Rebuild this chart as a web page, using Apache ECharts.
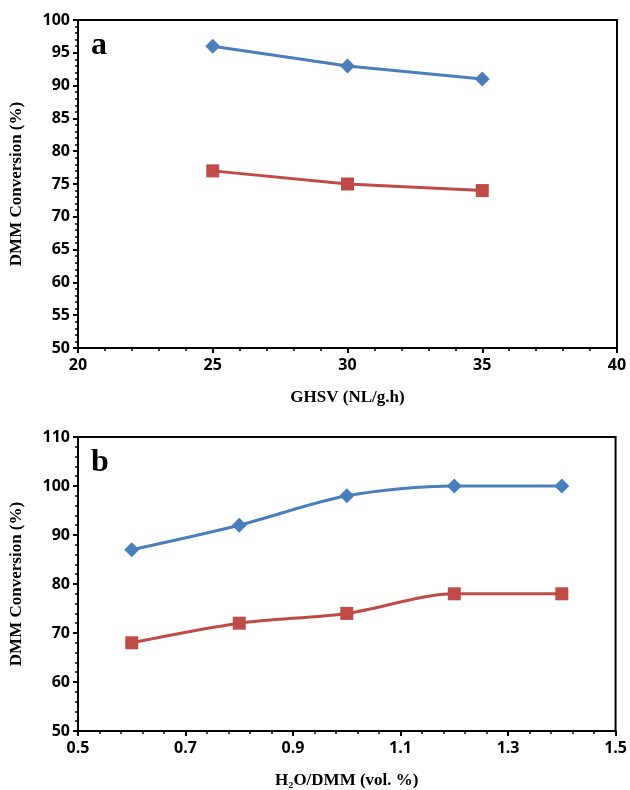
<!DOCTYPE html>
<html>
<head>
<meta charset="utf-8">
<script src="https://cdn.jsdelivr.net/npm/echarts@6/dist/echarts.min.js"></script>
<style>
html,body{margin:0;padding:0;background:#fff;}
#c{width:630px;height:790px;}
</style>
</head>
<body>
<div id="c"></div>
<script>
// Panel a
const ghsv = [25, 30, 35];
const aBlue = [96, 93, 91];
const aRed = [77, 75, 74];
// Panel b
const ratio = [0.6, 0.8, 1.0, 1.2, 1.4];
const bBlue = [87, 92, 98, 100, 100];
const bRed = [68, 72, 74, 78, 78];

const BLUE = '#4A7EBB';
const RED = '#BE4B48';
const tickFont = {fontFamily: '"Open Sans", "Liberation Sans", sans-serif', fontWeight: 'bold', fontSize: 16, color: '#000'};
const nameFont = {fontFamily: '"Liberation Serif", "DejaVu Serif", serif', fontWeight: 'bold', fontSize: 17, color: '#000'};
const axLine = {show: true, lineStyle: {color: '#000', width: 2}};

function pairs(xs, ys){ return xs.map((x,i)=>[x, ys[i]]); }

function xAxis(idx, min, max, interval, minorSplit, name, fmt){
  return {
    type: 'value', gridIndex: idx, min: min, max: max, interval: interval,
    name: name, nameLocation: 'middle', nameGap: 41, nameTextStyle: nameFont,
    axisLine: Object.assign({onZero: false}, axLine),
    axisTick: {show: true, length: 5, lineStyle: {color: '#000', width: 2}},
    minorTick: {show: true, splitNumber: minorSplit, length: 3, lineStyle: {color: '#000', width: 1.5}},
    splitLine: {show: false},
    axisLabel: Object.assign({margin: 9, formatter: fmt}, tickFont)
  };
}
function yAxis(idx, min, max, interval, minorSplit){
  return {
    type: 'value', gridIndex: idx, min: min, max: max, interval: interval,
    name: 'DMM Conversion (%)', nameLocation: 'middle', nameGap: 53, nameRotate: 90, nameTextStyle: nameFont,
    axisLine: Object.assign({onZero: false}, axLine),
    axisTick: {show: true, length: 5, lineStyle: {color: '#000', width: 2}},
    minorTick: {show: true, splitNumber: minorSplit, length: 3, lineStyle: {color: '#000', width: 1.5}},
    splitLine: {show: false},
    axisLabel: Object.assign({margin: 8}, tickFont)
  };
}

const chart = echarts.init(document.getElementById('c'), null, {renderer: 'canvas'});
chart.setOption({
  backgroundColor: '#fff',
  animation: false,
  title: [
    {text: 'a', left: 86, top: 25, textStyle: {fontFamily: '"Liberation Serif", serif', fontWeight: 'bold', fontSize: 32, color: '#000'}},
    {text: 'b', left: 86, top: 442, textStyle: {fontFamily: '"Liberation Serif", serif', fontWeight: 'bold', fontSize: 32, color: '#000'}}
  ],
  grid: [
    {left: 78, top: 20, width: 539, height: 328, show: true, borderColor: '#000', borderWidth: 2, backgroundColor: 'transparent'},
    {left: 78, top: 437, width: 539, height: 296, show: true, borderColor: '#000', borderWidth: 2, backgroundColor: 'transparent'}
  ],
  xAxis: [
    xAxis(0, 20, 40, 5, 5, 'GHSV (NL/g.h)', v => String(v)),
    xAxis(1, 0.5, 1.5, 0.2, 5, 'H₂O/DMM (vol. %)', v => (Math.round(v*10)/10).toFixed(1))
  ],
  yAxis: [
    yAxis(0, 50, 100, 5, 5),
    yAxis(1, 50, 110, 10, 5)
  ],
  series: [
    {type: 'line', xAxisIndex: 0, yAxisIndex: 0, data: pairs(ghsv, aBlue), symbol: 'diamond', symbolSize: 15,
     itemStyle: {color: BLUE}, lineStyle: {color: BLUE, width: 3}},
    {type: 'line', xAxisIndex: 0, yAxisIndex: 0, data: pairs(ghsv, aRed), symbol: 'rect', symbolSize: 13,
     itemStyle: {color: RED}, lineStyle: {color: RED, width: 3}},
    {type: 'line', xAxisIndex: 1, yAxisIndex: 1, data: pairs(ratio, bBlue), symbol: 'diamond', symbolSize: 15, smooth: 0.3,
     itemStyle: {color: BLUE}, lineStyle: {color: BLUE, width: 3}},
    {type: 'line', xAxisIndex: 1, yAxisIndex: 1, data: pairs(ratio, bRed), symbol: 'rect', symbolSize: 13, smooth: 0.3,
     itemStyle: {color: RED}, lineStyle: {color: RED, width: 3}}
  ]
});
</script>
</body>
</html>
